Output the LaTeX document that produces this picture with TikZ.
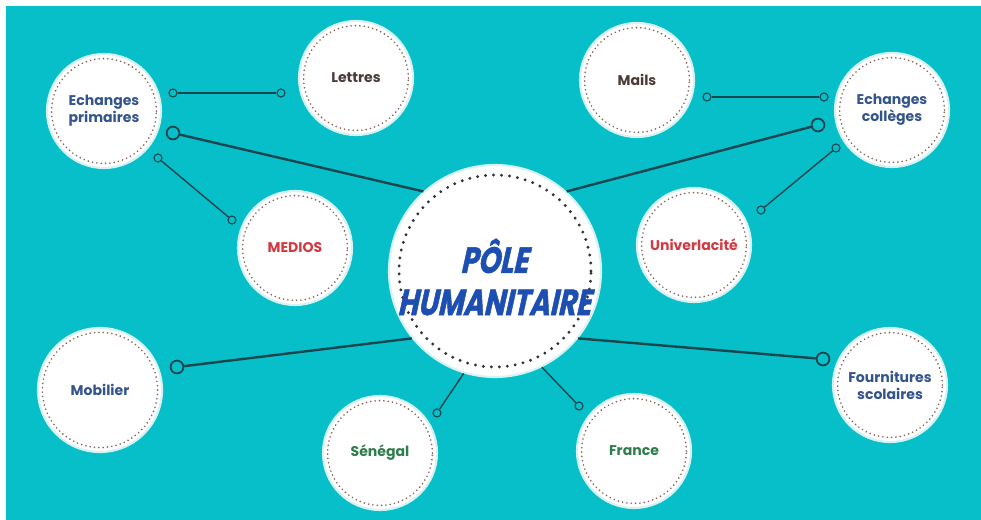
\documentclass[tikz,border=0pt]{standalone}
\usepackage{fontspec}
\setmainfont{Poppins}
\newfontfamily\polefont[FakeSlant=0.22,FakeStretch=0.76,FakeBold=1.2]{Poppins}
\usepackage{tikz}
\usetikzlibrary{shapes}
\definecolor{lagoon}{HTML}{06BFC8}
\definecolor{rim}{HTML}{D6F2F3}
\definecolor{linkc}{HTML}{1A4650}
\definecolor{dotbrown}{HTML}{8E6158}
\definecolor{navy}{HTML}{34558B}
\definecolor{umber}{HTML}{4B3B37}
\definecolor{redlab}{HTML}{D23A43}
\definecolor{greenlab}{HTML}{2F7D4C}
\definecolor{poleblue}{HTML}{1D4FB3}
\tikzstyle{bubble}=[circle,fill=white,draw=rim,line width=1.5pt,inner sep=0mm,minimum size=2.85cm,align=center,font=\bfseries\fontsize{10}{12}\selectfont]
\tikzstyle{ring}=[draw=dotbrown,line width=1.3pt,line cap=round,dash pattern=on 0pt off 3.1pt]
\tikzstyle{bigring}=[draw=black!80,line width=2.3pt,line cap=round,dash pattern=on 0pt off 5.7pt]
\tikzstyle{pin}=[circle,draw=linkc,fill=lagoon,line width=0.8pt,inner sep=0mm,minimum size=2mm]
\tikzstyle{bigpin}=[circle,draw=linkc,fill=lagoon,line width=1.3pt,inner sep=0mm,minimum size=3.2mm]
\tikzstyle{link}=[draw=linkc,line width=1pt]
\tikzstyle{mainlink}=[draw=linkc,line width=1.7pt]

\begin{document}
\begin{tikzpicture}[x=0.025cm,y=-0.025cm]
      \useasboundingbox (0,0) rectangle (981,520);
      \fill[white] (0,0) rectangle (981,520);
      \fill[lagoon] (6,6) rectangle (990,530);
      % centre
      \node[bubble,minimum size=5.3cm] at (495,271) (pole) {};
      \draw[bigring] (pole.center) circle (2.4cm);
      \node[text=poleblue,font=\polefont\bfseries\fontsize{26}{30}\selectfont,align=center] at (494,277) (poletext) {PÔLE\\HUMANITAIRE};
      % bubbles
      \node[bubble,text=navy] at (104,111) (primaires) {Echanges\\primaires};
      \node[bubble,text=umber] at (356,78) (lettres) {Lettres};
      \node[bubble,text=redlab] at (295,248) (medios) {MEDIOS};
      \node[bubble,text=umber] at (637,80) (mails) {Mails};
      \node[bubble,text=navy] at (892,110) (colleges) {Echanges\\collèges};
      \node[bubble,text=redlab] at (694,245) (univer) {Univerlacité};
      \node[bubble,text=navy,minimum size=3.1cm] at (100,390) (mobilier) {Mobilier};
      \node[bubble,text=greenlab] at (380,453) (senegal) {Sénégal};
      \node[bubble,text=greenlab] at (634,451) (france) {France};
      \node[bubble,text=navy] at (890,385) (fournitures) {Fournitures\\scolaires};
      \foreach \b in {primaires,lettres,medios,mails,colleges,univer,senegal,france,fournitures}
        \draw[ring] (\b.center) circle (1.31cm);
      \draw[ring] (mobilier.center) circle (1.44cm);
      % pins
      \node[pin] at (173,93) (pa1) {};
      \node[pin] at (281,93) (pa2) {};
      \node[bigpin] at (173,133) (pa3) {};
      \node[pin] at (158,158) (pa4) {};
      \node[pin] at (232,220) (pa5) {};
      \node[pin] at (707,97) (pb1) {};
      \node[pin] at (824,97) (pb2) {};
      \node[bigpin] at (818,125) (pb3) {};
      \node[pin] at (761,210) (pb4) {};
      \node[pin] at (836,148) (pb5) {};
      \node[bigpin] at (177,367) (pc1) {};
      \node[pin] at (437,413) (pc2) {};
      \node[pin] at (579,406) (pc3) {};
      \node[bigpin] at (823,359) (pc4) {};
      % links
      \draw[link] (pa1) -- (pa2);
      \draw[link] (pa4) -- (pa5);
      \draw[link] (pb1) -- (pb2);
      \draw[link] (pb4) -- (pb5);
      \draw[mainlink] (pole.132) -- (pa3);
      \draw[mainlink] (pole.48) -- (pb3);
      \draw[mainlink] (pole.219) -- (pc1);
      \draw[mainlink] (pole.321) -- (pc4);
      \draw[link] (pole.253) -- (pc2);
      \draw[link] (pole.296) -- (pc3);
\end{tikzpicture}
\end{document}
